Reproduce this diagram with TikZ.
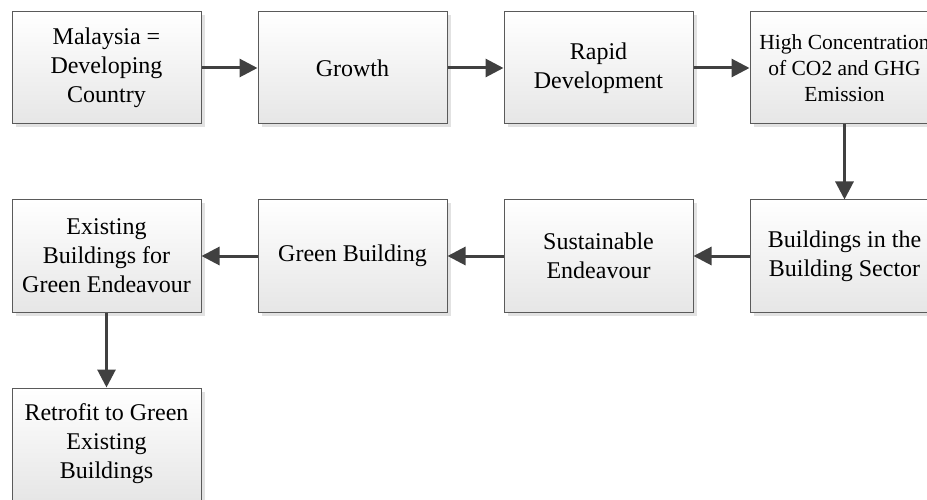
\documentclass[tikz,border=0pt]{standalone}
\usepackage{fontspec}
\setmainfont{Liberation Serif}
\usetikzlibrary{arrows.meta,shadows}
\definecolor{boxline}{HTML}{5A5A5A}
\definecolor{arrowgray}{HTML}{404040}
\definecolor{shadegray}{HTML}{E6E6E6}
\definecolor{shadowgray}{HTML}{E2E2E2}
\tikzset{
  flowbox/.style={draw=boxline, line width=1pt, minimum width=189pt, minimum height=112pt,
    inner sep=0pt, align=center, top color=white, bottom color=shadegray,
    font=\fontsize{24}{29}\selectfont,
    drop shadow={shadow xshift=3.5pt, shadow yshift=-3.5pt, fill=shadowgray, opacity=1}},
  smalltext/.style={font=\fontsize{21.5}{26}\selectfont},
  flow/.style={draw=arrowgray, line width=3pt,
    -{Triangle[length=18pt, width=18pt]}, shorten >=0pt}
}
\begin{document}
\begin{tikzpicture}[x=1pt, y=-1pt]
  \useasboundingbox (0,0) rectangle (927,500);
  \clip (0,0) rectangle (927,500);
  % first row
  \node[flowbox] (dev)  at (106.5,68) {Malaysia =\\Developing\\Country};
  \node[flowbox] (grow) at (352.5,68) {Growth};
  \node[flowbox] (rapid) at (598.5,68) {Rapid\\Development};
  \node[flowbox, smalltext] (co2) at (844.5,68) {High Concentration\\of CO2 and GHG\\Emission};
  % second row
  \node[flowbox] (exist) at (106.5,256) {Existing\\Buildings for\\Green Endeavour};
  \node[flowbox] (green) at (352.5,256) {Green Building};
  \node[flowbox] (sust)  at (598.5,256) {Sustainable\\Endeavour};
  \node[flowbox] (bldg)  at (844.5,256) {Buildings in the\\Building Sector};
  % third row
  \node[flowbox] (retro) at (106.5,444) {Retrofit to Green\\Existing\\Buildings};
  % connectors
  \draw[flow] (dev) -- (grow);
  \draw[flow] (grow) -- (rapid);
  \draw[flow] (rapid) -- (co2);
  \draw[flow] (co2) -- (bldg);
  \draw[flow] (bldg) -- (sust);
  \draw[flow] (sust) -- (green);
  \draw[flow] (green) -- (exist);
  \draw[flow] (exist) -- (retro);
\end{tikzpicture}
\end{document}
